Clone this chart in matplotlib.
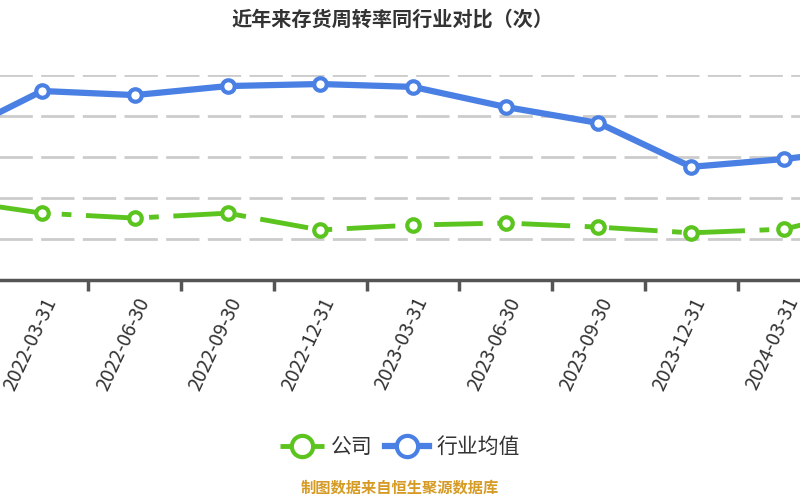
import matplotlib
matplotlib.use("Agg")
import matplotlib.pyplot as plt

plt.rcParams['font.family'] = ['Noto Sans CJK SC', 'DejaVu Sans']

# data (units: 次)
dates = ['2021-12-31', '2022-03-31', '2022-06-30', '2022-09-30', '2022-12-31',
         '2023-03-31', '2023-06-30', '2023-09-30', '2023-12-31', '2024-03-31',
         '2024-06-30']
company = [1.96, 1.63, 1.51, 1.63, 1.22, 1.34, 1.39, 1.29, 1.15, 1.24, 1.78]
industry = [3.48, 4.61, 4.51, 4.73, 4.78, 4.71, 4.22, 3.83, 2.76, 2.95, 3.22]

title = '近年来存货周转率同行业对比（次）'
source = '制图数据来自恒生聚源数据库'

green = '#5bc41f'
blue = '#4a80e3'
grey = '#333333'

fig = plt.figure(figsize=(8, 5), dpi=100)
fig.patch.set_facecolor('white')

# the plot area is wider than the picture, as in the reference
ax = fig.add_axes([-97 / 800, 0.44, 1020 / 800, 0.41])
x = list(range(len(dates)))

ax.plot(x, industry, color=blue, lw=4.5, marker='o', ms=9,
        mfc='white', mec=blue, mew=3, label='行业均值', zorder=4)
ax.plot(x, company, color=green, lw=3.5, dashes=(10, 3, 2, 3), marker='o', ms=9,
        mfc='white', mec=green, mew=3, label='公司', zorder=3)

ax.set_xlim(-0.5, len(dates) - 0.5)
ax.set_ylim(0, 5)
ax.set_yticks([1, 2, 3, 4, 5])
ax.yaxis.grid(True, color='#cccccc', lw=2, dashes=(12, 3))
ax.set_yticklabels([])
ax.tick_params(axis='y', length=0)

ax.set_xticks([i + 0.5 for i in x[:-1]], minor=False)
ax.set_xticklabels([])
ax.set_xticks(x, minor=True)
ax.set_xticklabels(dates, minor=True, rotation=65, ha='right', va='top',
                   rotation_mode='anchor', fontsize=14, color=grey)
ax.tick_params(axis='x', which='major', length=8, width=2.5, color='#555555')
ax.tick_params(axis='x', which='minor', length=0, pad=10)

for s in ['top', 'right', 'left']:
    ax.spines[s].set_visible(False)
ax.spines['bottom'].set_color('#555555')
ax.spines['bottom'].set_linewidth(2.5)
ax.set_facecolor('none')

fig.text(0.49, 0.962, title, ha='center', va='center', fontsize=14.5,
         fontweight='bold', color=grey)

h, l = ax.get_legend_handles_labels()
fig.legend(h[::-1], l[::-1], loc='center', bbox_to_anchor=(0.5, 0.106), ncol=2,
           frameon=False, fontsize=15, markerscale=1.7, handlelength=2.1,
           columnspacing=0.6, handletextpad=0.35, labelcolor=grey)

fig.text(0.5, 0.024, source, ha='center', va='center', fontsize=11,
         color='#d69b24', fontweight='bold')

fig.savefig('out.png', dpi=100)
